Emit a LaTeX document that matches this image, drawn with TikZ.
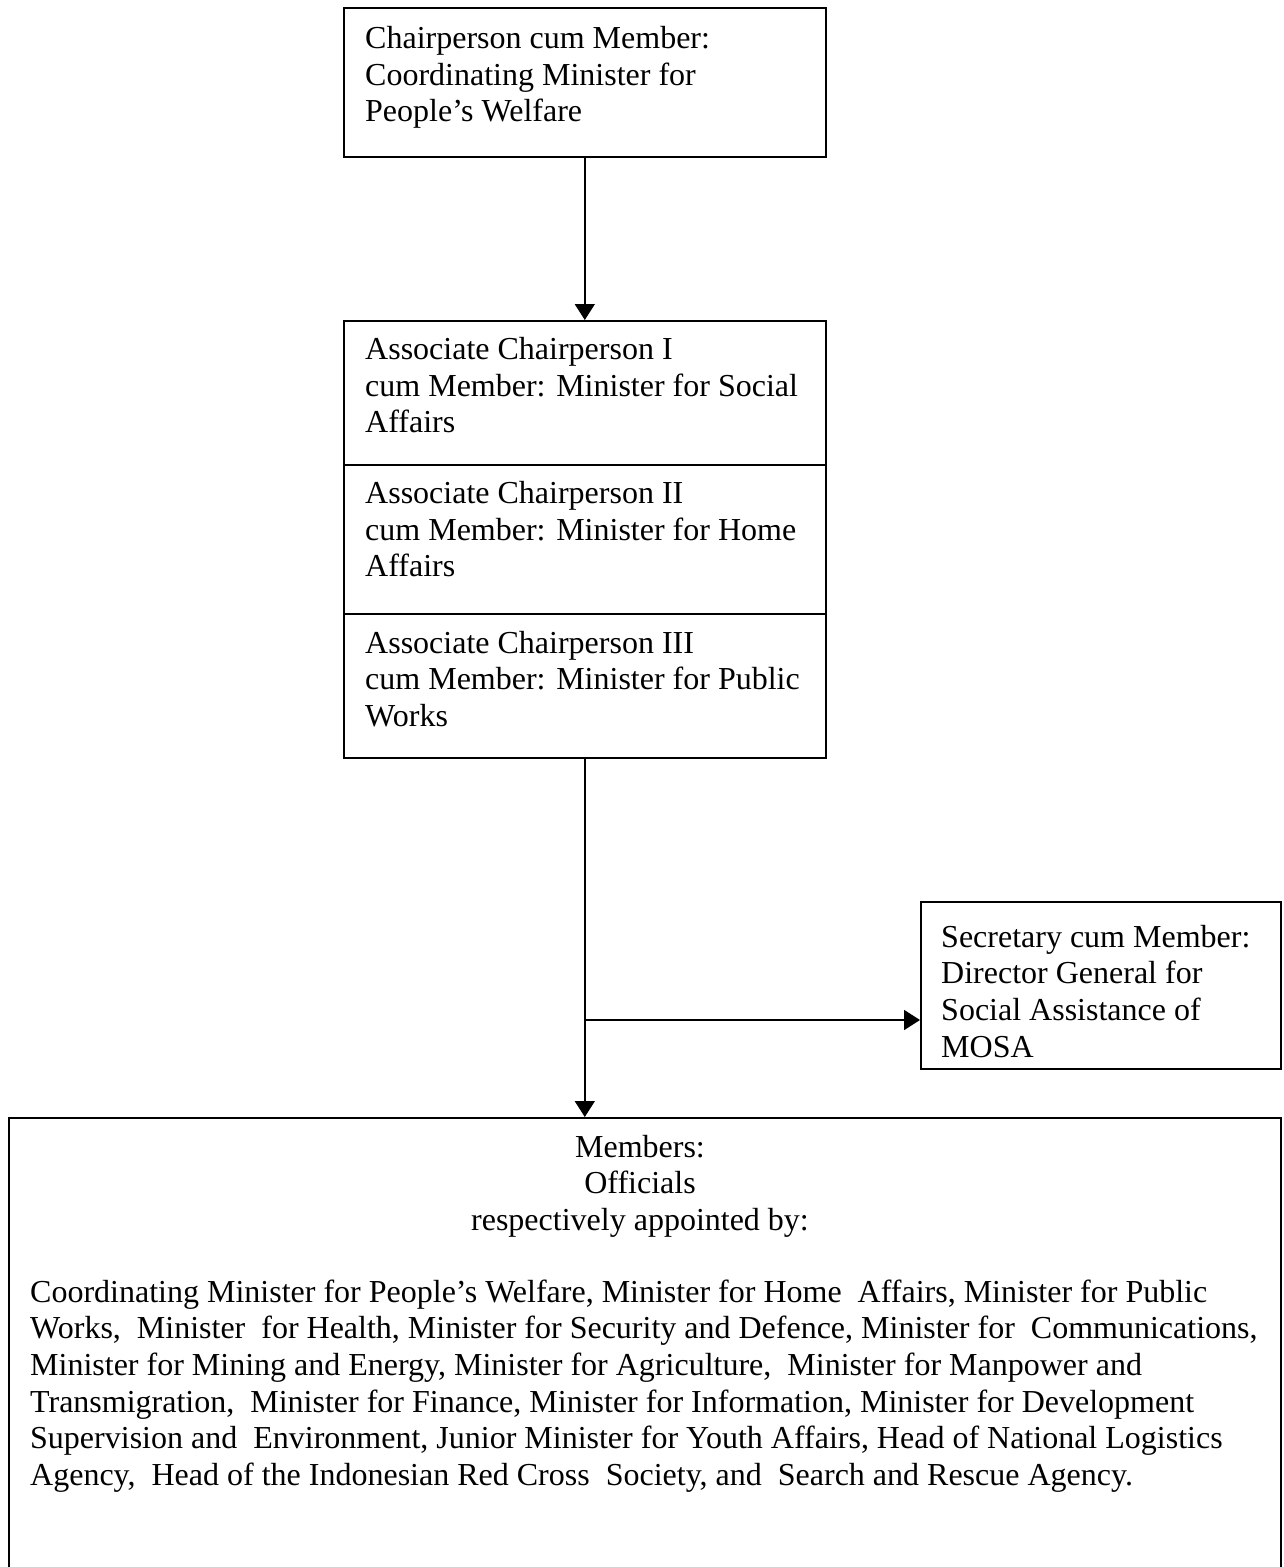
\documentclass[tikz,border=0pt]{standalone}
\usepackage{fontspec}
\setmainfont{Liberation Serif}
\usetikzlibrary{arrows.meta,calc}
\begin{document}
\begin{tikzpicture}[x=1pt,y=-1pt,
  box/.style={draw,line width=1.6pt,inner sep=0pt,anchor=north west},
  txt/.style={inner sep=0pt,anchor=north west,align=left,font=\fontsize{32}{36.6}\selectfont},
  ctxt/.style={inner sep=0pt,anchor=north,align=center,font=\fontsize{32}{36.6}\selectfont},
  arr/.style={line width=1.6pt,-{Triangle[length=16pt,width=20pt]}},
  ln/.style={line width=1.6pt}]
\clip (0,0) rectangle (1284,1567);
\fill[white] (0,0) rectangle (1284,1567);
% boxes
\node[box,minimum width=482pt,minimum height=149pt] (top) at (343,7) {};
\node[box,minimum width=482pt,minimum height=144pt] (a1) at (343,320) {};
\node[box,minimum width=482pt,minimum height=149pt] (a2) at (343,464) {};
\node[box,minimum width=482pt,minimum height=144pt] (a3) at (343,613) {};
\node[box,minimum width=360pt,minimum height=167pt] (sec) at (920,901) {};
\node[box,minimum width=1272pt,minimum height=500pt] (mem) at (8,1117) {};
% texts (\strut height = 25.6pt)
\node[txt] (ttop) at (365,22.6) {\strut Chairperson cum Member:\\Coordinating Minister for\\People’s Welfare};
\node[txt] (ta1) at (365,333.6) {\strut Associate Chairperson I\\cum Member: Minister for Social\\Affairs};
\node[txt] (ta2) at (365,477.6) {\strut Associate Chairperson II\\cum Member: Minister for Home\\Affairs};
\node[txt] (ta3) at (365,627.4) {\strut Associate Chairperson III\\cum Member: Minister for Public\\Works};
\node[txt] (tsec) at (941,921.4) {\strut Secretary cum Member:\\Director General for\\Social Assistance of\\MOSA};
\node[ctxt] (tmemh) at (640,1131.4) {\strut Members:\\Officials\\respectively appointed by:};
\node[txt] (tmem) at (30,1276.4) {\strut Coordinating Minister for People’s Welfare, Minister for Home~ Affairs, Minister for Public\\
Works,~ Minister~ for Health, Minister for Security and Defence, Minister for~ Communications,\\
Minister for Mining and Energy, Minister for Agriculture,~ Minister for Manpower and\\
Transmigration,~ Minister for Finance, Minister for Information, Minister for Development\\
Supervision and~ Environment, Junior Minister for Youth Affairs, Head of National Logistics\\
Agency,~ Head of the Indonesian Red Cross~ Society, and~ Search and Rescue Agency.};
% connectors
\draw[arr] (top.south) -- (a1.north);
\coordinate (j) at (584,1020);
\draw[arr] (a3.south) -- (a3.south |- mem.north);
\draw[arr] (j) -- (j -| sec.west);
\end{tikzpicture}
\end{document}
